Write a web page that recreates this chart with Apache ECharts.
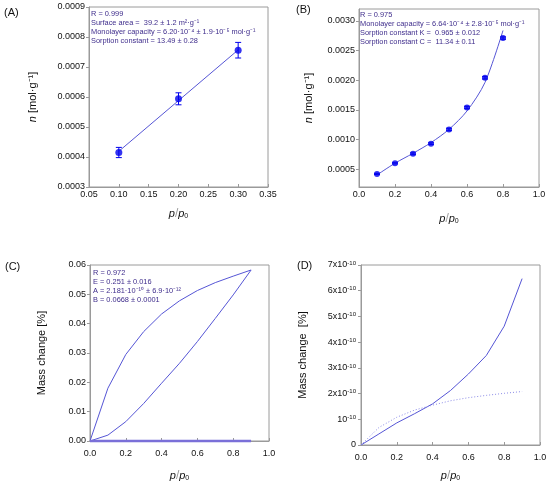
<!DOCTYPE html>
<html>
<head>
<meta charset="utf-8">
<script src="https://cdn.jsdelivr.net/npm/echarts@6/dist/echarts.min.js"></script>
<style>
  html, body { margin: 0; padding: 0; background: #fff; }
  #chart { width: 550px; height: 487px; }
</style>
</head>
<body>
<div id="chart"></div>
<script>
// (A) BET
const aX = [0.1, 0.2, 0.3];
const aN = [0.000415, 0.000594, 0.000756];
const aErr = [0.000017, 0.00002, 0.000026];
const aFitX = [0.1, 0.3];
const aFit = [0.000419, 0.000757];

// (B) GAB
const bX = [0.1, 0.2, 0.3, 0.4, 0.5, 0.6, 0.7, 0.8];
const bN = [0.00042, 0.0006, 0.00076, 0.00093, 0.00117, 0.00154, 0.00204, 0.00271];
const bErr = [0.00001, 0.00001, 0.000015, 0.000015, 0.00002, 0.00002, 0.00002, 0.00002];
const bFit = [0.000403, 0.000601, 0.000768, 0.000948, 0.001172, 0.001482, 0.001963, 0.002838];
const bTicks = [0.0005, 0.001, 0.0015, 0.002, 0.0025, 0.003];

// (C) mass change
const cX = [0, 0.1, 0.2, 0.3, 0.4, 0.5, 0.6, 0.7, 0.8, 0.9];
const cUpper = [0, 0.018, 0.0295, 0.0373, 0.0433, 0.0478, 0.0513, 0.054, 0.0562, 0.0583];
const cLower = [0, 0.002, 0.0066, 0.0128, 0.0197, 0.0265, 0.0339, 0.0418, 0.0498, 0.0583];
const cBase = [0, 0, 0, 0, 0, 0, 0, 0, 0, 0];

// (D) mass change, very small
const dX = [0, 0.1, 0.2, 0.3, 0.4, 0.5, 0.6, 0.7, 0.8, 0.9];
const dSolid = [0, 0.43e-10, 0.86e-10, 1.22e-10, 1.6e-10, 2.12e-10, 2.76e-10, 3.48e-10, 4.62e-10, 6.47e-10];
const dDotted = [0, 0.68e-10, 1.08e-10, 1.36e-10, 1.55e-10, 1.72e-10, 1.84e-10, 1.93e-10, 2.01e-10, 2.08e-10];

const notesA = ['R = 0.999', 'Surface area =  39.2 ± 1.2 m²·g⁻¹',
  'Monolayer capacity = 6.20·10⁻⁴ ± 1.9·10⁻⁵ mol·g⁻¹', 'Sorption constant = 13.49 ± 0.28'];
const notesB = ['R = 0.975', 'Monolayer capacity = 6.64·10⁻⁴ ± 2.8·10⁻⁵ mol·g⁻¹',
  'Sorption constant K =  0.965 ± 0.012', 'Sorption constant C =  11.34 ± 0.11'];
const notesC = ['R = 0.972', 'E = 0.251 ± 0.016', 'A = 2.181·10⁻¹⁰ ± 6.9·10⁻¹²', 'B = 0.0668 ± 0.0001'];

const FONT = '"Liberation Sans", Arial, sans-serif';
const LINE = '#5555d5';
const DOT = '#0000ee';
const NOTE = '#3f2d8c';
const AXIS = '#9a9a9a';
const INK = '#111';

const zip = (xs, ys) => xs.map((x, i) => [x, ys[i]]);
const errData = (xs, ys, es) => xs.map((x, i) => [x, ys[i] - es[i], ys[i] + es[i]]);

const pLabel = {
  formatter: '{i|p}/{i|p}{s|0}',
  rich: {
    i: { fontStyle: 'italic', fontSize: 11, fontFamily: FONT, color: INK },
    s: { fontSize: 7, fontFamily: FONT, color: INK, verticalAlign: 'bottom', padding: [5, 0, 0, 0] }
  }
};

function xAxis(idx, min, max, interval, dec, gap, margin) {
  return {
    gridIndex: idx, type: 'value', min, max, interval,
    name: pLabel.formatter, nameLocation: 'middle', nameGap: gap,
    nameTextStyle: { rich: pLabel.rich },
    axisLine: { lineStyle: { color: AXIS } },
    axisTick: { inside: true, length: 3, lineStyle: { color: AXIS } },
    axisLabel: { fontSize: 9, fontFamily: FONT, color: INK, margin, formatter: v => v.toFixed(dec) },
    splitLine: { show: false }
  };
}

function yAxis(idx, min, max, interval, fmt, name, gap, extra) {
  return Object.assign({
    gridIndex: idx, type: 'value', min, max, interval,
    name, nameLocation: 'middle', nameGap: gap, nameRotate: 90,
    nameTextStyle: {
      fontSize: 11, fontFamily: FONT, color: INK,
      rich: {
        i: { fontStyle: 'italic', fontSize: 11, fontFamily: FONT, color: INK },
        t: { fontSize: 11, fontFamily: FONT, color: INK }
      }
    },
    axisLine: { lineStyle: { color: AXIS } },
    axisTick: { length: 3, lineStyle: { color: AXIS } },
    axisLabel: { fontSize: 9, fontFamily: FONT, color: INK, margin: 4, formatter: fmt },
    splitLine: { show: false }
  }, extra || {});
}

function errBars(idx, data, cap) {
  return {
    type: 'custom', xAxisIndex: idx, yAxisIndex: idx,
    data, encode: { x: 0, y: [1, 2] }, z: 3,
    renderItem(params, api) {
      const x = api.value(0);
      const lo = api.coord([x, api.value(1)]);
      const hi = api.coord([x, api.value(2)]);
      const st = { stroke: DOT, lineWidth: 1 };
      return {
        type: 'group', children: [
          { type: 'line', shape: { x1: lo[0], y1: lo[1], x2: hi[0], y2: hi[1] }, style: st },
          { type: 'line', shape: { x1: lo[0] - cap, y1: lo[1], x2: lo[0] + cap, y2: lo[1] }, style: st },
          { type: 'line', shape: { x1: hi[0] - cap, y1: hi[1], x2: hi[0] + cap, y2: hi[1] }, style: st }
        ]
      };
    }
  };
}

function notes(lines, x, y) {
  return {
    type: 'text', left: x, top: y, z: 10,
    style: { text: lines.join('\n'), fontSize: 7.4, lineHeight: 9, fontFamily: FONT, fill: NOTE }
  };
}

function panel(label, x, y) {
  return { type: 'text', left: x, top: y, style: { text: label, fontSize: 11, fontFamily: FONT, fill: INK } };
}

function sciLabel(v) {
  const k = Math.round(v / 1e-10);
  if (k === 0) return '{b|0}';
  if (k === 1) return '{b|10}{s|-10}';
  return '{b|' + k + 'x10}{s|-10}';
}

const gridBase = { show: true, borderColor: AXIS, borderWidth: 1, containLabel: false };

const option = {
  animation: false,
  textStyle: { fontFamily: FONT },
  grid: [
    Object.assign({ left: 89, top: 7, width: 179, height: 180 }, gridBase),
    Object.assign({ left: 359, top: 9, width: 180, height: 178 }, gridBase),
    Object.assign({ left: 90, top: 265, width: 179, height: 176 }, gridBase),
    Object.assign({ left: 361, top: 265, width: 179, height: 180 }, gridBase)
  ],
  xAxis: [
    xAxis(0, 0.05, 0.35, 0.05, 2, 21, 3),
    xAxis(1, 0, 1, 0.2, 1, 26, 3),
    xAxis(2, 0, 1, 0.2, 1, 29, 8),
    xAxis(3, 0, 1, 0.2, 1, 25, 8)
  ],
  yAxis: [
    yAxis(0, 0.0003, 0.0009, 0.0001, v => v.toFixed(4), '{i|n} {t|[mol·g⁻¹]}', 51),
    yAxis(1, 0.0002, 0.0032, 0.0005, v => v.toFixed(4), '{i|n} {t|[mol·g⁻¹]}', 45, {
      axisLabel: { fontSize: 9, fontFamily: FONT, color: INK, margin: 4, formatter: v => v.toFixed(4), customValues: bTicks },
      axisTick: { length: 3, lineStyle: { color: AXIS }, customValues: bTicks }
    }),
    yAxis(2, 0, 0.06, 0.01, v => v.toFixed(2), 'Mass change [%]', 43),
    yAxis(3, 0, 7e-10, 1e-10, sciLabel, 'Mass change  [%]', 53, {
      axisLabel: {
        fontSize: 9, fontFamily: FONT, color: INK, margin: 5, formatter: sciLabel,
        rich: {
          b: { fontSize: 9, fontFamily: FONT, color: INK },
          s: { fontSize: 6, fontFamily: FONT, color: INK, verticalAlign: 'top', padding: [0, 0, 4, 0] }
        }
      }
    })
  ],
  series: [
    { type: 'line', xAxisIndex: 0, yAxisIndex: 0, data: zip(aFitX, aFit), showSymbol: false,
      lineStyle: { color: LINE, width: 1 } },
    errBars(0, errData(aX, aN, aErr), 3),
    { type: 'scatter', xAxisIndex: 0, yAxisIndex: 0, data: zip(aX, aN), symbolSize: 7,
      itemStyle: { color: DOT }, z: 4 },

    { type: 'line', xAxisIndex: 1, yAxisIndex: 1, data: zip(bX, bFit), showSymbol: false, smooth: 0.3,
      lineStyle: { color: LINE, width: 1 } },
    errBars(1, errData(bX, bN, bErr), 3),
    { type: 'scatter', xAxisIndex: 1, yAxisIndex: 1, data: zip(bX, bN), symbolSize: 6,
      itemStyle: { color: DOT }, z: 4 },

    { type: 'line', xAxisIndex: 2, yAxisIndex: 2, data: zip(cX, cUpper), showSymbol: false,
      lineStyle: { color: LINE, width: 1 } },
    { type: 'line', xAxisIndex: 2, yAxisIndex: 2, data: zip(cX, cLower), showSymbol: false,
      lineStyle: { color: LINE, width: 1 } },
    { type: 'line', xAxisIndex: 2, yAxisIndex: 2, data: zip(cX, cBase), showSymbol: false,
      lineStyle: { color: '#7a6fd8', width: 2.4 }, clip: false, z: 5 },

    { type: 'line', xAxisIndex: 3, yAxisIndex: 3, data: zip(dX, dSolid), showSymbol: false,
      lineStyle: { color: LINE, width: 1 } },
    { type: 'line', xAxisIndex: 3, yAxisIndex: 3, data: zip(dX, dDotted), showSymbol: false,
      lineStyle: { color: '#8a8ae6', width: 1, type: [1, 2] } }
  ],
  graphic: [
    panel('(A)', 4, 7), panel('(B)', 296, 4), panel('(C)', 5, 261), panel('(D)', 297, 260),
    notes(notesA, 91, 9), notes(notesB, 360, 10), notes(notesC, 93, 268)
  ]
};

const chart = echarts.init(document.getElementById('chart'));
chart.setOption(option);
</script>
</body>
</html>
